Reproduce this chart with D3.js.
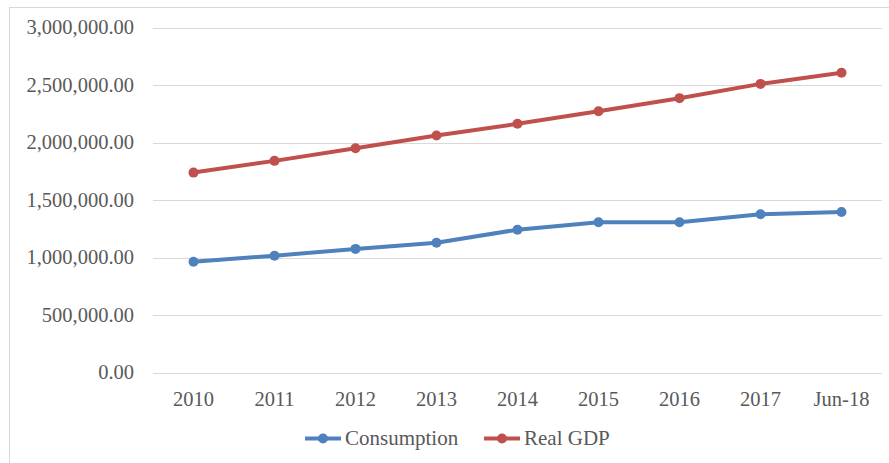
<!DOCTYPE html>
<html>
<head>
<meta charset="utf-8">
<script src="https://d3js.org/d3.v7.min.js"></script>
<style>
  body { margin: 0; background: #fff; }
  svg { display: block; }
  .grid line { stroke: #d9d9d9; stroke-width: 1; shape-rendering: crispEdges; }
  .grid path { stroke-width: 0; }
  text { font-family: "Liberation Serif", "Times New Roman", serif; fill: #595959; }
</style>
</head>
<body>
<script>
// chart data
var categories = ["2010", "2011", "2012", "2013", "2014", "2015", "2016", "2017", "Jun-18"];
var consumption = [965000, 1017000, 1076000, 1130000, 1243000, 1307000, 1308000, 1377000, 1397000];
var realGdp = [1739000, 1841000, 1951000, 2061000, 2163000, 2272000, 2386000, 2510000, 2606000];
var yTicks = [0, 500000, 1000000, 1500000, 2000000, 2500000, 3000000];

var seriesList = [
  { name: "Consumption", values: consumption, color: "#4f81bd" },
  { name: "Real GDP", values: realGdp, color: "#c0504d" }
];

var W = 889, H = 463;
var margin = { top: 27.5, right: 7, bottom: 90.3, left: 153 };
var width = W - margin.left - margin.right,
    height = H - margin.top - margin.bottom;

var svg = d3.select("body").append("svg")
    .attr("width", W)
    .attr("height", H);

// chart area border (only top/left visible in the crop)
svg.append("rect")
    .attr("x", 9.5).attr("y", 7.5)
    .attr("width", W + 20).attr("height", H + 20)
    .attr("fill", "none")
    .attr("stroke", "#d9d9d9");

var g = svg.append("g")
    .attr("transform", "translate(" + margin.left + "," + margin.top + ")");

var x = d3.scaleBand().domain(categories).range([0, width]);
var y = d3.scaleLinear().domain([0, 3000000]).range([height, 0]);

// gridlines
g.append("g")
    .attr("class", "grid")
    .call(d3.axisLeft(y).tickValues(yTicks).tickSize(-width).tickFormat(""));

// y labels
var fmt = d3.format(",.2f");
g.selectAll(".ylab")
    .data(yTicks)
  .enter().append("text")
    .attr("class", "ylab")
    .attr("x", -19)
    .attr("y", function(d) { return y(d); })
    .attr("dy", "0.33em")
    .attr("text-anchor", "end")
    .style("font-size", "20.5px")
    .text(function(d) { return fmt(d); });

// x labels
g.selectAll(".xlab")
    .data(categories)
  .enter().append("text")
    .attr("class", "xlab")
    .attr("x", function(d) { return x(d) + x.bandwidth() / 2; })
    .attr("y", height + 33)
    .attr("text-anchor", "middle")
    .style("font-size", "20.5px")
    .text(function(d) { return d; });

var line = d3.line()
    .x(function(d, i) { return x(categories[i]) + x.bandwidth() / 2; })
    .y(function(d) { return y(d); });

seriesList.forEach(function(s) {
  g.append("path")
      .datum(s.values)
      .attr("fill", "none")
      .attr("stroke", s.color)
      .attr("stroke-width", 4)
      .attr("stroke-linejoin", "round")
      .attr("d", line);

  g.selectAll(null)
      .data(s.values)
    .enter().append("circle")
      .attr("cx", function(d, i) { return x(categories[i]) + x.bandwidth() / 2; })
      .attr("cy", function(d) { return y(d); })
      .attr("r", 5)
      .attr("fill", s.color);
});

// legend
var legendX = [305, 484];
var legendY = 438.5;
seriesList.forEach(function(s, i) {
  var lg = svg.append("g").attr("transform", "translate(" + legendX[i] + "," + legendY + ")");
  lg.append("line")
      .attr("x1", 0).attr("x2", 36)
      .attr("y1", 0).attr("y2", 0)
      .attr("stroke", s.color)
      .attr("stroke-width", 4);
  lg.append("circle")
      .attr("cx", 18).attr("cy", 0).attr("r", 5)
      .attr("fill", s.color);
  lg.append("text")
      .attr("x", 40)
      .attr("y", 0)
      .attr("dy", "0.33em")
      .style("font-size", "21px")
      .text(s.name);
});
</script>
</body>
</html>
